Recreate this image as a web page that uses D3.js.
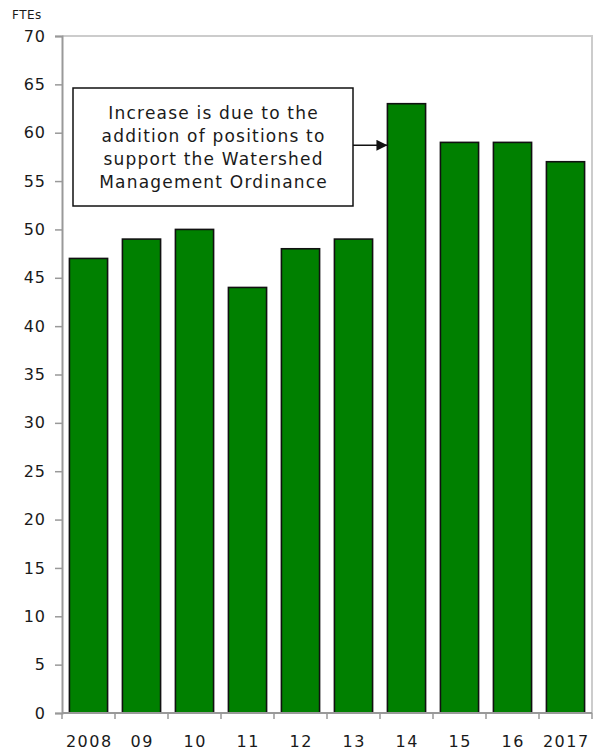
<!DOCTYPE html>
<html>
<head>
<meta charset="utf-8">
<script src="https://cdn.jsdelivr.net/npm/d3@7"></script>
<style>
  html, body { margin: 0; padding: 0; background: #fff; }
  svg { display: block; font-family: "DejaVu Sans", Verdana, sans-serif; }
</style>
</head>
<body>
<svg id="chart" width="594" height="751"></svg>
<script>
// Full-time equivalent positions by fiscal year
const categories = ["2008", "09", "10", "11", "12", "13", "14", "15", "16", "2017"];
const ftes = [47, 49, 50, 44, 48, 49, 63, 59, 59, 57];
const yTicks = d3.range(0, 71, 5);
const note = [
  "Increase is due to the",
  "addition of positions to",
  "support the Watershed",
  "Management Ordinance"
];

const W = 594, H = 751;
const margin = { top: 36, right: 2, bottom: 38, left: 62 };
const svg = d3.select("#chart");

const x = d3.scaleBand()
  .domain(categories)
  .range([margin.left, W - margin.right])
  .paddingInner(0.28)
  .paddingOuter(0.14);

const y = d3.scaleLinear()
  .domain([0, 70])
  .range([H - margin.bottom, margin.top]);

// plot-area frame (top and right edges)
svg.append("path")
  .attr("d", `M${margin.left},${y(70)}H${W - margin.right}V${y(0)}`)
  .attr("fill", "none")
  .attr("stroke", "#cccccc")
  .attr("stroke-width", 2);

// bars
svg.append("g")
  .selectAll("rect")
  .data(categories.map((c, i) => ({ c, v: ftes[i] })))
  .join("rect")
  .attr("x", d => x(d.c))
  .attr("width", x.bandwidth())
  .attr("y", d => y(d.v))
  .attr("height", d => y(0) - y(d.v))
  .attr("fill", "#008000")
  .attr("stroke", "#111")
  .attr("stroke-width", 1.6);

// y axis
const yAxis = svg.append("g")
  .attr("transform", `translate(${margin.left},0)`)
  .call(d3.axisLeft(y).tickValues(yTicks).tickSize(7).tickPadding(9));
yAxis.select(".domain").attr("stroke", "#999").attr("stroke-width", 2);
yAxis.selectAll(".tick line").attr("stroke", "#999").attr("stroke-width", 1.5);
yAxis.selectAll(".tick text")
  .attr("font-size", 16)
  .attr("fill", "#1a1a1a")
  .style("letter-spacing", "1px")
  .style("font-family", "'DejaVu Sans', Verdana, sans-serif");

// x axis: tick marks sit on the boundaries between bands
const half = x.step() * x.paddingInner() / 2;
const bounds = categories.map(c => x(c) - half).concat([W - margin.right]);
const xAxisG = svg.append("g").attr("transform", `translate(0,${y(0)})`);
xAxisG.append("line")
  .attr("x1", margin.left).attr("x2", W - margin.right)
  .attr("stroke", "#999").attr("stroke-width", 2);
xAxisG.selectAll("line.tk")
  .data(bounds)
  .join("line")
  .attr("class", "tk")
  .attr("x1", d => d).attr("x2", d => d)
  .attr("y1", 0).attr("y2", 6)
  .attr("stroke", "#999").attr("stroke-width", 1.5);
xAxisG.selectAll("text")
  .data(categories)
  .join("text")
  .attr("x", d => x(d) + x.bandwidth() / 2 + 0.75)
  .attr("y", 34)
  .attr("text-anchor", "middle")
  .attr("font-size", 16)
  .attr("fill", "#1a1a1a")
  .style("letter-spacing", "1.5px")
  .text(d => d);

// unit label
svg.append("text")
  .attr("x", 12).attr("y", 19)
  .attr("font-size", 12)
  .attr("fill", "#1a1a1a")
  .style("letter-spacing", "0.5px")
  .text("FTEs");

// annotation box with arrow pointing at the 2014 bar
const box = { x: 73, y: 88, w: 280, h: 118 };
svg.append("rect")
  .attr("x", box.x).attr("y", box.y)
  .attr("width", box.w).attr("height", box.h)
  .attr("fill", "#fff")
  .attr("stroke", "#111")
  .attr("stroke-width", 1.5);
svg.append("g")
  .selectAll("text")
  .data(note)
  .join("text")
  .attr("x", box.x + box.w / 2 + 0.6)
  .attr("y", (d, i) => 119 + i * 23)
  .attr("text-anchor", "middle")
  .attr("font-size", 17)
  .attr("fill", "#1a1a1a")
  .style("letter-spacing", "1.2px")
  .text(d => d);

svg.append("defs").append("marker")
  .attr("id", "arrowhead")
  .attr("viewBox", "0 0 10 10")
  .attr("refX", 10).attr("refY", 5)
  .attr("markerWidth", 11).attr("markerHeight", 11)
  .attr("markerUnits", "userSpaceOnUse")
  .attr("orient", "auto")
  .append("path")
  .attr("d", "M0,0L10,5L0,10Z")
  .attr("fill", "#111");

const arrowY = y(58.7);
svg.append("line")
  .attr("x1", box.x + box.w).attr("x2", x("14"))
  .attr("y1", arrowY).attr("y2", arrowY)
  .attr("stroke", "#111")
  .attr("stroke-width", 1.5)
  .attr("marker-end", "url(#arrowhead)");
</script>
</body>
</html>
